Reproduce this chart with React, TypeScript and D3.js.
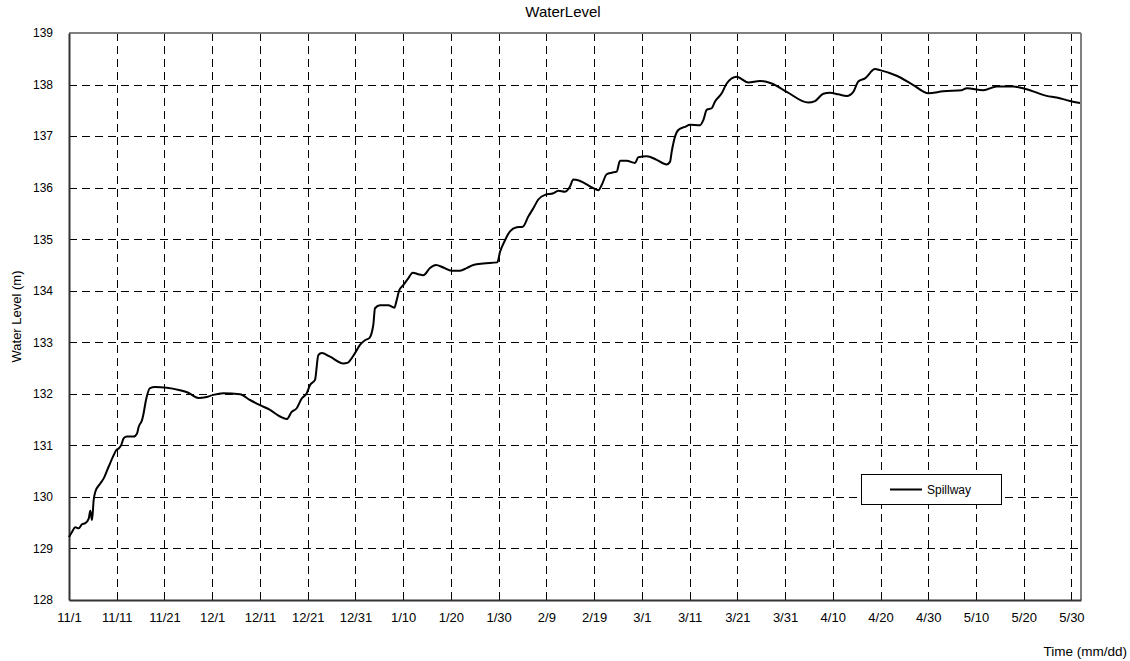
import { useEffect, useRef } from 'react';
import * as d3 from 'd3';

// series start (11/1) and axis end (6/1)
const startDate = new Date(Date.UTC(2010, 10, 1));
const endDate = new Date(Date.UTC(2011, 5, 1));

// days elapsed since 11/1 for each reading
const elapsedDays = [
    0, 0.63, 1.32, 2.03, 2.72, 3.41, 4.13, 4.46, 4.82, 5.17,
    5.51, 6.56, 7.27, 8.32, 9.36, 9.91, 10.41, 10.96, 11.46, 12.15,
    13.55, 14.25, 14.6, 15.29, 15.56, 16.13, 16.97, 18.02, 20.47, 23.25,
    24.99, 27.09, 28.85, 30.23, 32.32, 35.82, 37.92, 40.01, 42.11, 44.2,
    45.61, 46.65, 47.7, 48.75, 49.8, 50.49, 51.53, 52.23, 52.94, 54.68,
    57.46, 58.3, 59.91, 60.96, 62.01, 62.91, 63.75, 64.1, 65.15, 66.89,
    68.15, 68.65, 69.19, 70.03, 71.08, 72.0, 73.17, 74.22, 75.63, 76.88,
    78.41, 80.17, 81.91, 83.31, 84.7, 86.79, 89.72, 90.29, 91.34, 92.38,
    93.79, 95.04, 96.22, 97.27, 98.31, 99.72, 101.46, 102.5, 103.91, 104.95,
    105.64, 107.05, 109.83, 110.88, 111.59, 112.64, 113.69, 114.73, 115.43, 116.83,
    118.57, 119.26, 121.02, 123.11, 125.21, 125.9, 126.26, 126.95, 127.64, 129.05,
    130.09, 132.19, 132.88, 133.59, 134.64, 135.33, 136.73, 137.78, 139.87, 142.3,
    144.75, 147.21, 150.35, 154.87, 156.28, 158.02, 159.42, 161.16, 162.92, 164.3,
    165.35, 166.75, 168.85, 169.89, 173.39, 176.87, 180.01, 183.15, 187.01, 188.06,
    191.53, 194.34, 197.82, 200.62, 204.81, 206.91, 209.7, 211.79,
];

// Spillway water level (m)
const spillwayLevels = [
    129.22, 129.32, 129.41, 129.39, 129.47, 129.49, 129.58, 129.73, 129.55, 129.94,
    130.10, 130.26, 130.36, 130.59, 130.81, 130.91, 130.94, 131.01, 131.14, 131.17,
    131.17, 131.23, 131.36, 131.49, 131.59, 131.88, 132.11, 132.13, 132.12, 132.07,
    132.02, 131.92, 131.94, 131.98, 132.01, 131.99, 131.88, 131.78, 131.69, 131.56,
    131.51, 131.65, 131.72, 131.91, 132.01, 132.17, 132.27, 132.75, 132.79, 132.72,
    132.59, 132.60, 132.79, 132.95, 133.04, 133.08, 133.34, 133.66, 133.72, 133.72,
    133.67, 133.82, 134.01, 134.11, 134.24, 134.35, 134.32, 134.30, 134.44, 134.50,
    134.45, 134.39, 134.39, 134.44, 134.50, 134.53, 134.55, 134.75, 134.98, 135.15,
    135.23, 135.24, 135.44, 135.60, 135.77, 135.86, 135.89, 135.94, 135.92, 136.02,
    136.16, 136.13, 135.99, 135.95, 136.05, 136.26, 136.29, 136.31, 136.52, 136.52,
    136.48, 136.59, 136.61, 136.54, 136.45, 136.50, 136.70, 136.99, 137.12, 137.18,
    137.22, 137.21, 137.31, 137.51, 137.54, 137.67, 137.83, 138.02, 138.15, 138.04,
    138.07, 138.02, 137.86, 137.65, 137.68, 137.82, 137.84, 137.81, 137.78, 137.86,
    138.06, 138.12, 138.30, 138.28, 138.17, 137.99, 137.83, 137.87, 137.89, 137.93,
    137.89, 137.96, 137.96, 137.91, 137.78, 137.75, 137.68, 137.64,
];

// x ticks every 10 days from 11/1, y ticks every metre
const xTickDays = d3.range(0, 211, 10);
const yTicks = d3.range(128, 140, 1);

const App = () => {
    const svgRef = useRef(null);

    useEffect(() => {
        const svg = d3.select(svgRef.current);
        svg.selectAll('*').remove();

        const left = 69, right = 1081, top = 33, bottom = 600;
        const toDate = (d) => new Date(startDate.getTime() + d * 864e5);

        const x = d3.scaleUtc().domain([startDate, endDate]).range([left, right]);
        const y = d3.scaleLinear().domain([128, 139]).range([bottom, top]);

        const data = elapsedDays.map((d, i) => ({ date: toDate(d), level: spillwayLevels[i] }));
        const xTicks = xTickDays.map(toDate);

        // dashed grid
        const grid = svg.append('g').attr('stroke', '#000').attr('stroke-width', 1).attr('stroke-dasharray', '8,5');
        grid.selectAll('line.v')
            .data(xTicks.slice(1))
            .join('line')
            .attr('class', 'v')
            .attr('x1', d => Math.round(x(d)) + 0.5)
            .attr('x2', d => Math.round(x(d)) + 0.5)
            .attr('y1', top)
            .attr('y2', bottom);
        grid.selectAll('line.h')
            .data(yTicks.filter(t => t > 128 && t < 139))
            .join('line')
            .attr('class', 'h')
            .attr('x1', left)
            .attr('x2', right)
            .attr('y1', d => Math.round(y(d)) + 0.5)
            .attr('y2', d => Math.round(y(d)) + 0.5);

        // frame: grey top/right, dark left/bottom
        svg.append('line').attr('x1', left).attr('x2', right).attr('y1', top).attr('y2', top)
            .attr('stroke', '#808080').attr('stroke-width', 2);
        svg.append('line').attr('x1', right).attr('x2', right).attr('y1', top).attr('y2', bottom)
            .attr('stroke', '#808080').attr('stroke-width', 2);

        // axes
        const xAxis = svg.append('g')
            .attr('transform', `translate(0,${bottom})`)
            .call(d3.axisBottom(x).tickValues(xTicks).tickFormat(d3.utcFormat('%-m/%-d')).tickSize(0).tickPadding(13));
        xAxis.select('.domain').attr('stroke', '#333').attr('stroke-width', 2);
        xAxis.selectAll('text').attr('font-family', '"Liberation Sans", Arial, sans-serif').attr('font-size', 13).attr('fill', '#000');

        const yAxis = svg.append('g')
            .attr('transform', `translate(${left},0)`)
            .call(d3.axisLeft(y).tickValues(yTicks).tickFormat(d3.format('d')).tickSize(0).tickPadding(16));
        yAxis.select('.domain').attr('stroke', '#333').attr('stroke-width', 2);
        yAxis.selectAll('text').attr('font-family', '"Liberation Sans", Arial, sans-serif').attr('font-size', 12).attr('fill', '#000');

        // series
        const line = d3.line()
            .x(d => x(d.date))
            .y(d => y(d.level))
            .curve(d3.curveMonotoneX);
        svg.append('path')
            .datum(data)
            .attr('fill', 'none')
            .attr('stroke', '#000')
            .attr('stroke-width', 2)
            .attr('stroke-linejoin', 'round')
            .attr('d', line);

        // titles
        svg.append('text')
            .attr('x', 563).attr('y', 17)
            .attr('text-anchor', 'middle')
            .attr('font-family', '"Liberation Sans", Arial, sans-serif')
            .attr('font-size', 15)
            .text('WaterLevel');
        svg.append('text')
            .attr('transform', `translate(21,${(top + bottom) / 2}) rotate(-90)`)
            .attr('text-anchor', 'middle')
            .attr('font-family', '"Liberation Sans", Arial, sans-serif')
            .attr('font-size', 13)
            .text('Water Level (m)');
        svg.append('text')
            .attr('x', 1127).attr('y', 656)
            .attr('text-anchor', 'end')
            .attr('font-family', '"Liberation Sans", Arial, sans-serif')
            .attr('font-size', 13.5)
            .text('Time (mm/dd)');

        // legend
        const legend = svg.append('g').attr('transform', 'translate(861,474)');
        legend.append('rect')
            .attr('x', 0.5).attr('y', 0.5).attr('width', 140).attr('height', 30)
            .attr('fill', '#fff').attr('stroke', '#000');
        legend.append('line')
            .attr('x1', 29).attr('x2', 61).attr('y1', 15.5).attr('y2', 15.5)
            .attr('stroke', '#000').attr('stroke-width', 2);
        legend.append('text')
            .attr('x', 66).attr('y', 15.5).attr('dy', '0.35em')
            .attr('font-family', '"Liberation Sans", Arial, sans-serif')
            .attr('font-size', 12)
            .text('Spillway');
    }, []);

    return (
        <svg
            ref={svgRef}
            width="1130"
            height="661"
            style={{ position: 'absolute', left: 0, top: 0, background: '#fff' }}
        ></svg>
    );
};

export default App;
